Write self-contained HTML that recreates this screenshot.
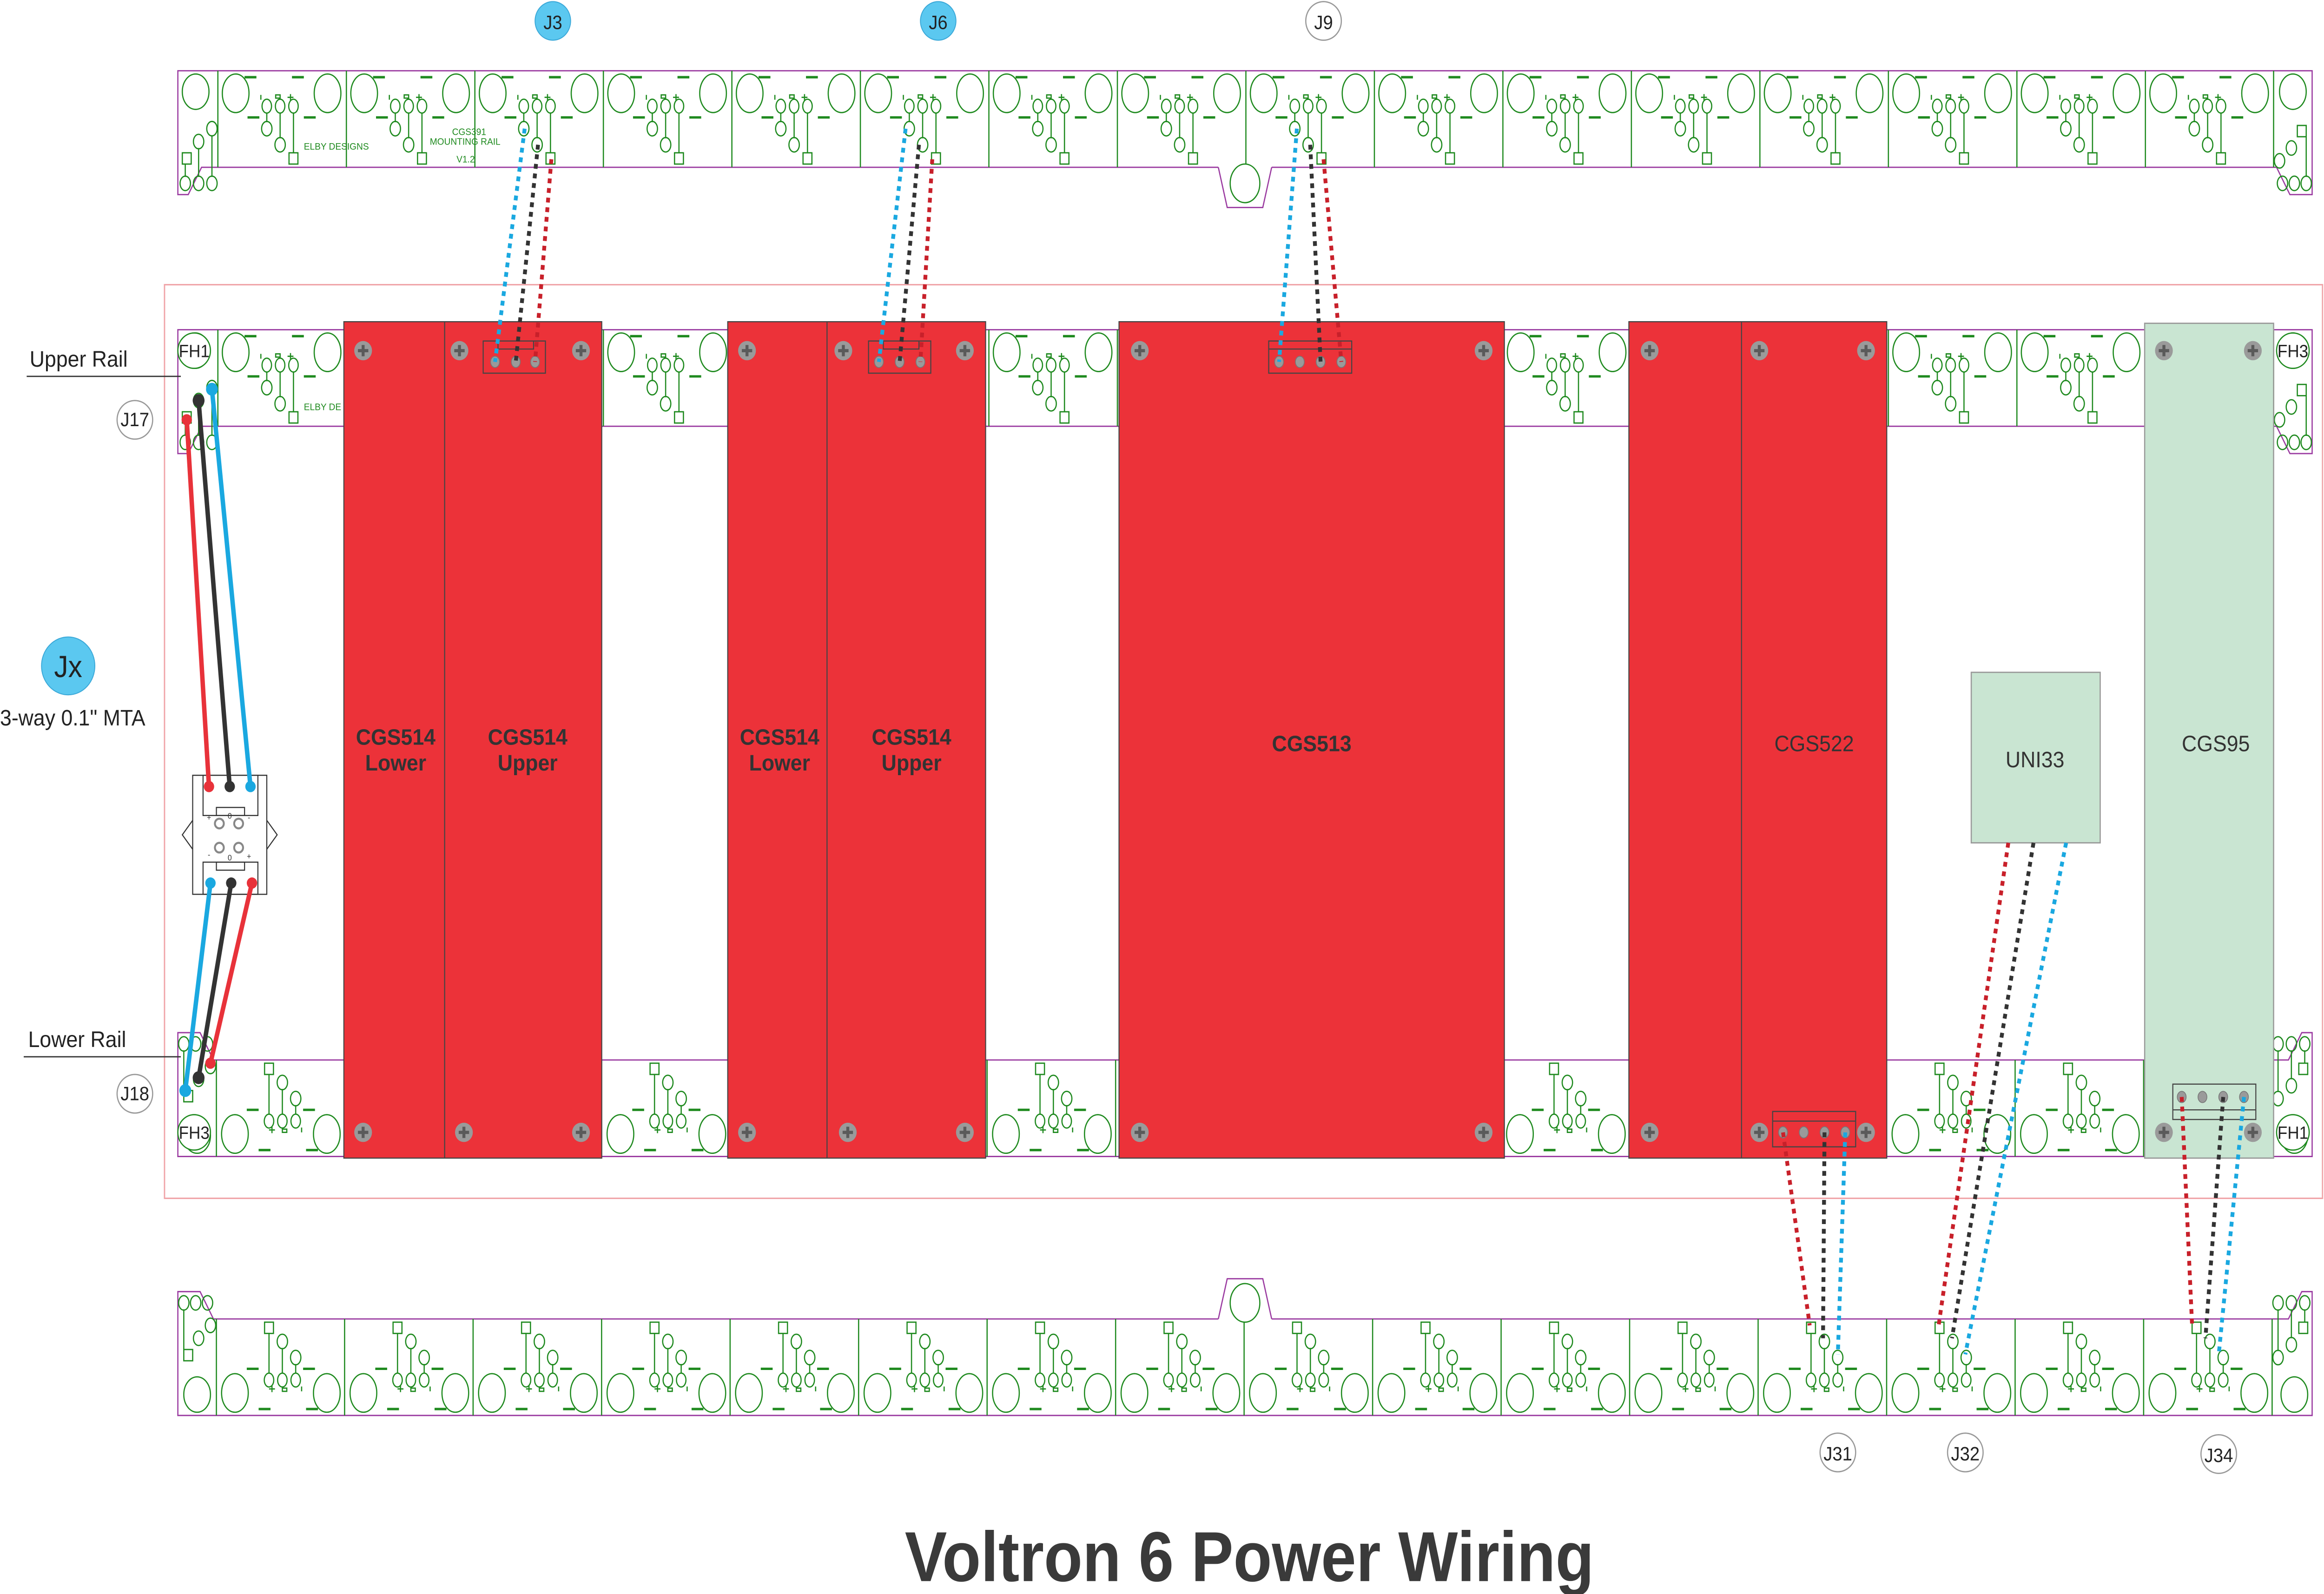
<!DOCTYPE html>
<html><head><meta charset="utf-8"><style>
html,body{margin:0;padding:0;background:#fff;overflow:hidden;width:100%;height:100%;}
svg{display:block;width:100vw;height:100vh;}
text{font-family:"Liberation Sans",sans-serif;}
</style></head><body>
<svg width="5427" height="3430" viewBox="0 0 1568 991" preserveAspectRatio="none" xmlns="http://www.w3.org/2000/svg">
<defs>
<g id="mod" fill="none" stroke="#1f8a1f" stroke-width="0.8">
  <line x1="0" y1="44" x2="0" y2="104"/>
  <ellipse cx="12" cy="58" rx="9" ry="12"/>
  <ellipse cx="74" cy="58" rx="9" ry="12"/>
  <ellipse cx="33" cy="66" rx="3.2" ry="4.3"/>
  <ellipse cx="42" cy="66" rx="3.2" ry="4.3"/>
  <ellipse cx="51" cy="66" rx="3.2" ry="4.3"/>
  <line x1="33" y1="70" x2="33" y2="76"/>
  <line x1="42" y1="70" x2="42" y2="86"/>
  <line x1="51" y1="70" x2="51" y2="95"/>
  <ellipse cx="33" cy="80" rx="3.5" ry="4.5"/>
  <ellipse cx="42" cy="90" rx="3.5" ry="4.5"/>
  <rect x="48" y="95" width="6" height="7"/>
  <line x1="29" y1="59" x2="29" y2="62"/>
  <rect x="39" y="59" width="3" height="2"/>
  <line x1="47" y1="60.5" x2="51" y2="60.5"/><line x1="49" y1="58.5" x2="49" y2="62.5"/>
  <line x1="18" y1="48" x2="26" y2="48" stroke-width="1.5"/>
  <line x1="50" y1="48" x2="58" y2="48" stroke-width="1.5"/>
  <line x1="20" y1="73" x2="28" y2="73" stroke-width="1.5"/>
  <line x1="58" y1="73" x2="66" y2="73" stroke-width="1.5"/>
</g>
<g id="rail">
  <path d="M120,44 H1560 V121 H1545 L1536,104 H136 L127,121 H120 Z" fill="#fff" stroke="#9a3aa0" stroke-width="0.8"/>
  <use href="#mod" x="147"/><use href="#mod" x="233.7"/><use href="#mod" x="320.4"/><use href="#mod" x="407.1"/>
  <use href="#mod" x="493.8"/><use href="#mod" x="580.5"/><use href="#mod" x="667.2"/><use href="#mod" x="753.9"/>
  <use href="#mod" x="840.6"/><use href="#mod" x="927.3"/><use href="#mod" x="1014"/><use href="#mod" x="1100.7"/>
  <use href="#mod" x="1187.4"/><use href="#mod" x="1274.1"/><use href="#mod" x="1360.8"/><use href="#mod" x="1447.5"/>
  <g fill="none" stroke="#1f8a1f" stroke-width="0.8">
    <line x1="1534" y1="44" x2="1534" y2="104"/>
    <ellipse cx="132" cy="57" rx="9" ry="11"/>
    <rect x="123" y="95" width="6" height="7"/>
    <ellipse cx="134" cy="88" rx="3.5" ry="4.5"/>
    <ellipse cx="143" cy="80" rx="3.5" ry="4.5"/>
    <ellipse cx="125" cy="114" rx="3.5" ry="4.5"/>
    <ellipse cx="134" cy="114" rx="3.5" ry="4.5"/>
    <ellipse cx="143" cy="114" rx="3.5" ry="4.5"/>
    <line x1="125" y1="102" x2="125" y2="110"/><line x1="134" y1="92" x2="134" y2="110"/><line x1="143" y1="84" x2="143" y2="110"/>
    <ellipse cx="1547" cy="57" rx="9" ry="11"/>
    <rect x="1550" y="78" width="6" height="7"/>
    <ellipse cx="1546" cy="92" rx="3.5" ry="4.5"/>
    <ellipse cx="1538" cy="100" rx="3.5" ry="4.5"/>
    <ellipse cx="1540" cy="114" rx="3.5" ry="4.5"/>
    <ellipse cx="1548" cy="114" rx="3.5" ry="4.5"/>
    <ellipse cx="1556" cy="114" rx="3.5" ry="4.5"/>
    <line x1="1556" y1="85" x2="1556" y2="110"/>
  </g>
</g>
<g id="notch">
  <rect x="822" y="102" width="36" height="4" fill="#fff"/>
  <path d="M822,104 L828,129 H852 L858,104" fill="#fff" stroke="#9a3aa0" stroke-width="0.8"/>
  <ellipse cx="840" cy="114" rx="10" ry="12" fill="none" stroke="#1f8a1f" stroke-width="0.8"/>
</g>
<g id="screw"><circle r="6" fill="#9a9a9a"/><path d="M-3.5,0 H3.5 M0,-3.5 V3.5" stroke="#5a5a5a" stroke-width="2"/></g>
</defs>

<rect x="111" y="177" width="1456" height="568" fill="none" stroke="#f0a4a8" stroke-width="0.9"/>

<use href="#rail"/><use href="#notch"/>
<g transform="translate(0,161)"><use href="#rail"/></g>
<g transform="matrix(-1,0,0,-1,1680,763)"><use href="#rail"/></g>
<g transform="matrix(-1,0,0,-1,1680,924)"><use href="#rail"/><use href="#notch"/></g>

<g fill="#1f8a1f" font-size="6" font-family="Liberation Mono, monospace">
  <text x="205" y="93">ELBY DESIGNS</text>
  <text x="305" y="84">CGS391</text>
  <text x="290" y="90">MOUNTING RAIL</text>
  <text x="308" y="101">V1.2</text>
  <text x="205" y="255">ELBY DE</text>
</g>

<g fill="#fff" stroke="#1f8a1f" stroke-width="0.8">
  <circle cx="131" cy="218" r="11"/><circle cx="1547" cy="218" r="11"/>
  <circle cx="131" cy="704" r="11"/><circle cx="1547" cy="704" r="11"/>
</g>
<g font-size="11" fill="#222" text-anchor="middle">
  <text x="131" y="222">FH1</text><text x="1547" y="222">FH3</text>
  <text x="131" y="708">FH3</text><text x="1547" y="708">FH1</text>
</g>

<g stroke="#444" stroke-width="0.7" fill="#ec3239">
  <rect x="232" y="200" width="174" height="520"/>
  <line x1="300" y1="200" x2="300" y2="720"/>
  <rect x="491" y="200" width="174" height="520"/>
  <line x1="558" y1="200" x2="558" y2="720"/>
  <rect x="755" y="200" width="260" height="520"/>
  <rect x="1099" y="200" width="174" height="520"/>
  <line x1="1175" y1="200" x2="1175" y2="720"/>
</g>
<g stroke="#999" stroke-width="0.8" fill="#c9e5d2">
  <rect x="1330" y="418" width="87" height="106"/>
  <rect x="1447" y="201" width="87" height="519"/>
</g>

<g font-weight="bold" font-size="14" fill="#333" text-anchor="middle">
  <text x="267" y="463">CGS514</text><text x="267" y="479">Lower</text>
  <text x="356" y="463">CGS514</text><text x="356" y="479">Upper</text>
  <text x="526" y="463">CGS514</text><text x="526" y="479">Lower</text>
  <text x="615" y="463">CGS514</text><text x="615" y="479">Upper</text>
  <text x="885" y="467">CGS513</text>
</g>
<g font-size="14" fill="#333" text-anchor="middle">
  <text x="1224" y="467">CGS522</text>
  <text x="1373" y="477">UNI33</text>
  <text x="1495" y="467">CGS95</text>
</g>

<use href="#screw" x="245" y="218"/><use href="#screw" x="310" y="218"/><use href="#screw" x="392" y="218"/>
<use href="#screw" x="245" y="704"/><use href="#screw" x="313" y="704"/><use href="#screw" x="392" y="704"/>
<use href="#screw" x="504" y="218"/><use href="#screw" x="569" y="218"/><use href="#screw" x="651" y="218"/>
<use href="#screw" x="504" y="704"/><use href="#screw" x="572" y="704"/><use href="#screw" x="651" y="704"/>
<use href="#screw" x="769" y="218"/><use href="#screw" x="1001" y="218"/>
<use href="#screw" x="769" y="704"/><use href="#screw" x="1001" y="704"/>
<use href="#screw" x="1113" y="218"/><use href="#screw" x="1187" y="218"/><use href="#screw" x="1259" y="218"/>
<use href="#screw" x="1113" y="704"/><use href="#screw" x="1187" y="704"/><use href="#screw" x="1259" y="704"/>
<use href="#screw" x="1460" y="218"/><use href="#screw" x="1520" y="218"/>
<use href="#screw" x="1460" y="704"/><use href="#screw" x="1520" y="704"/>

<g fill="none" stroke="#444" stroke-width="0.7">
  <rect x="326" y="212" width="42" height="20"/><path d="M336,212 V217 H360 V212"/>
  <rect x="586" y="212" width="42" height="20"/><path d="M596,212 V217 H620 V212"/>
  <rect x="856" y="212" width="56" height="20"/><line x1="856" y1="217" x2="912" y2="217"/>
  <rect x="1196" y="691" width="56" height="22"/><line x1="1196" y1="697" x2="1252" y2="697"/>
  <rect x="1466" y="674" width="56" height="22"/><line x1="1466" y1="690" x2="1522" y2="690"/>
</g>
<g fill="#9a9a9a" stroke="#777" stroke-width="0.5">
  <ellipse cx="334" cy="225" rx="3" ry="3.5"/><ellipse cx="348" cy="225" rx="3" ry="3.5"/><ellipse cx="361" cy="225" rx="3" ry="3.5"/>
  <ellipse cx="593" cy="225" rx="3" ry="3.5"/><ellipse cx="607" cy="225" rx="3" ry="3.5"/><ellipse cx="621" cy="225" rx="3" ry="3.5"/>
  <ellipse cx="863" cy="225" rx="3" ry="3.5"/><ellipse cx="877" cy="225" rx="3" ry="3.5"/><ellipse cx="891" cy="225" rx="3" ry="3.5"/><ellipse cx="905" cy="225" rx="3" ry="3.5"/>
  <ellipse cx="1203" cy="704" rx="3" ry="3.5"/><ellipse cx="1217" cy="704" rx="3" ry="3.5"/><ellipse cx="1231" cy="704" rx="3" ry="3.5"/><ellipse cx="1245" cy="704" rx="3" ry="3.5"/>
  <ellipse cx="1472" cy="682" rx="3" ry="3.5"/><ellipse cx="1486" cy="682" rx="3" ry="3.5"/><ellipse cx="1500" cy="682" rx="3" ry="3.5"/><ellipse cx="1514" cy="682" rx="3" ry="3.5"/>
</g>

<g fill="none" stroke-width="2.6" stroke-dasharray="3,3">
  <line x1="354" y1="80" x2="334" y2="225" stroke="#1aa8e0"/>
  <line x1="363" y1="90" x2="348" y2="225" stroke="#333"/>
  <line x1="372" y1="99" x2="361" y2="225" stroke="#c8202a"/>
  <line x1="611" y1="80" x2="593" y2="225" stroke="#1aa8e0"/>
  <line x1="620" y1="90" x2="607" y2="225" stroke="#333"/>
  <line x1="629" y1="99" x2="621" y2="225" stroke="#c8202a"/>
  <line x1="875" y1="80" x2="863" y2="225" stroke="#1aa8e0"/>
  <line x1="884" y1="90" x2="891" y2="225" stroke="#333"/>
  <line x1="893" y1="99" x2="905" y2="225" stroke="#c8202a"/>
  <line x1="1203" y1="704" x2="1221" y2="824" stroke="#c8202a"/>
  <line x1="1231" y1="704" x2="1230" y2="832" stroke="#333"/>
  <line x1="1245" y1="704" x2="1240" y2="842" stroke="#1aa8e0"/>
  <line x1="1355" y1="524" x2="1308" y2="824" stroke="#c8202a"/>
  <line x1="1372" y1="524" x2="1317" y2="832" stroke="#333"/>
  <line x1="1394" y1="524" x2="1326" y2="842" stroke="#1aa8e0"/>
  <line x1="1472" y1="682" x2="1479" y2="824" stroke="#c8202a"/>
  <line x1="1500" y1="682" x2="1488" y2="832" stroke="#333"/>
  <line x1="1514" y1="682" x2="1497" y2="842" stroke="#1aa8e0"/>
</g>

<g fill="none" stroke="#333" stroke-width="0.7">
  <rect x="130" y="482" width="50" height="74" fill="#fff"/>
  <rect x="137" y="482" width="37" height="25"/>
  <rect x="146" y="502" width="19" height="5"/>
  <rect x="137" y="536" width="37" height="20"/>
  <rect x="146" y="536" width="19" height="5"/>
  <polyline points="130,510 123,519 130,528"/>
  <polyline points="180,510 187,519 180,528"/>
</g>
<g fill="#fff" stroke="#888" stroke-width="1.3">
  <circle cx="148" cy="512" r="3"/><circle cx="161" cy="512" r="3"/>
  <circle cx="148" cy="527" r="3"/><circle cx="161" cy="527" r="3"/>
</g>
<g font-size="5" fill="#333" text-anchor="middle">
  <text x="141" y="510">+</text><text x="155" y="509">0</text><text x="168" y="510">-</text>
  <text x="141" y="533">-</text><text x="155" y="535">0</text><text x="168" y="534">+</text>
</g>

<g fill="none" stroke-width="3">
  <line x1="126" y1="261" x2="141" y2="489" stroke="#e8323a"/>
  <line x1="134" y1="249" x2="155" y2="489" stroke="#333"/>
  <line x1="143" y1="242" x2="169" y2="489" stroke="#1aa8e0"/>
  <line x1="142" y1="549" x2="125" y2="678" stroke="#1aa8e0"/>
  <line x1="156" y1="549" x2="134" y2="670" stroke="#333"/>
  <line x1="170" y1="549" x2="142" y2="661" stroke="#e8323a"/>
</g>
<g>
  <circle cx="126" cy="261" r="3.5" fill="#e8323a"/><circle cx="134" cy="249" r="4" fill="#333"/><circle cx="143" cy="242" r="4" fill="#1aa8e0"/>
  <circle cx="141" cy="489" r="3.5" fill="#e8323a"/><circle cx="155" cy="489" r="3.5" fill="#333"/><circle cx="169" cy="489" r="3.5" fill="#1aa8e0"/>
  <circle cx="142" cy="549" r="3.5" fill="#1aa8e0"/><circle cx="156" cy="549" r="3.5" fill="#333"/><circle cx="170" cy="549" r="3.5" fill="#e8323a"/>
  <circle cx="125" cy="678" r="4" fill="#1aa8e0"/><circle cx="134" cy="670" r="4" fill="#333"/><circle cx="142" cy="661" r="3.5" fill="#e8323a"/>
</g>

<g fill="#222" font-size="14">
  <text x="20" y="228">Upper Rail</text>
  <text x="19" y="651">Lower Rail</text>
  <text x="0" y="451">3-way 0.1" MTA</text>
</g>
<line x1="18" y1="234" x2="122" y2="234" stroke="#333" stroke-width="0.8"/>
<line x1="16" y1="657" x2="122" y2="657" stroke="#333" stroke-width="0.8"/>

<g fill="#fff" stroke="#999" stroke-width="0.8">
  <circle cx="91" cy="261" r="12"/><circle cx="91" cy="680" r="12"/>
  <circle cx="893" cy="13" r="12"/>
  <circle cx="1240" cy="903" r="12"/><circle cx="1326" cy="903" r="12"/><circle cx="1497" cy="904" r="12"/>
</g>
<g fill="#5bc8f0" stroke="#3aa8d8" stroke-width="0.6">
  <circle cx="373" cy="13" r="12"/><circle cx="633" cy="13" r="12"/>
  <circle cx="46" cy="414" r="18"/>
</g>
<g fill="#222" font-size="12" text-anchor="middle">
  <text x="91" y="265">J17</text><text x="91" y="684">J18</text>
  <text x="373" y="18">J3</text><text x="633" y="18">J6</text><text x="893" y="18">J9</text>
  <text x="1240" y="908">J31</text><text x="1326" y="908">J32</text><text x="1497" y="909">J34</text>
  <text x="46" y="421" font-size="19">Jx</text>
</g>

<text x="843" y="983" text-anchor="middle" font-size="44" font-weight="bold" fill="#3a3a3a" textLength="465" lengthAdjust="spacingAndGlyphs">Voltron 6 Power Wiring</text>
</svg>
</body></html>
